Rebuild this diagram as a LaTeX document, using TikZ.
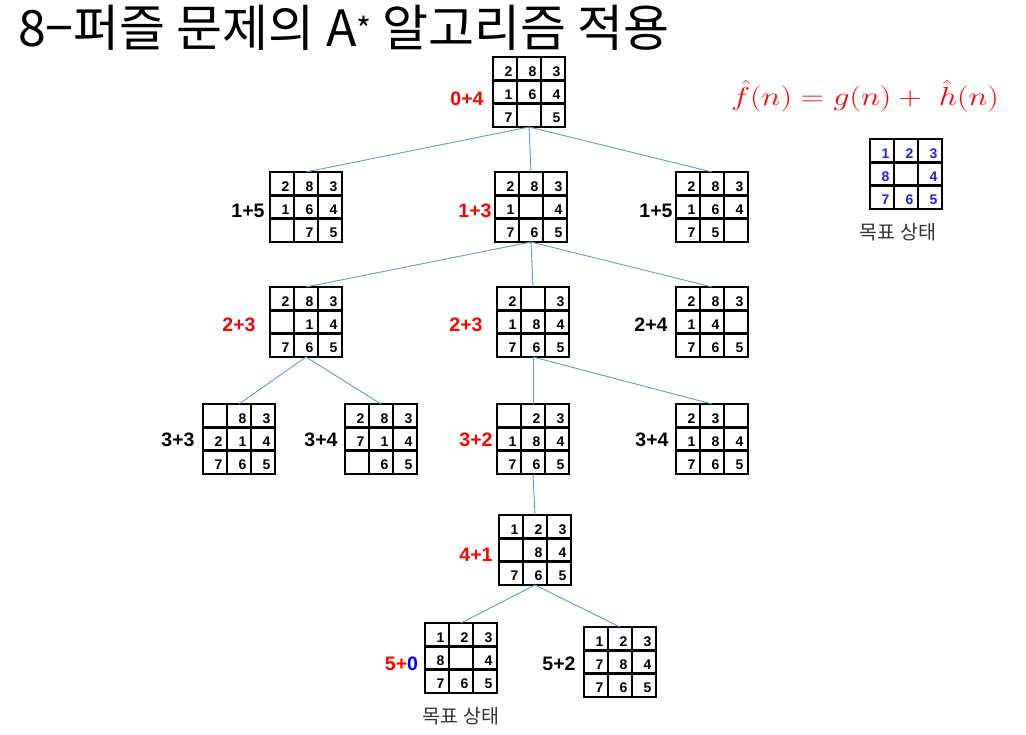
\documentclass[tikz,border=0pt]{standalone}
\usepackage{fontspec}
\newfontfamily\kfont{Noto Sans CJK KR}
\newfontfamily\dfont{Liberation Sans}
\definecolor{edgeblue}{HTML}{5B9BD5}
\definecolor{goalblue}{HTML}{2020E0}
\definecolor{capgray}{HTML}{333333}
\tikzset{
  pzframe/.style={draw, line width=2.4pt, minimum width=72pt, minimum height=70pt, inner sep=0pt, outer sep=0pt},
  pzline/.style={line width=2.4pt},
  digit/.style={font=\dfont\bfseries\fontsize{14}{14}\selectfont, inner sep=0pt},
  lbl/.style={font=\dfont\bfseries\fontsize{19.5}{20}\selectfont, inner sep=0pt},
  edge/.style={draw=edgeblue, line width=0.9pt},
  caption/.style={font=\kfont\fontsize{19.5}{20}\selectfont, text=capgray, inner sep=0pt}
}
\newcommand\pz[5]{%
  \node[pzframe] (#1) at (#2+36,#3+35) {};
  \draw[pzline] (#2+24,#3) -- (#2+24,#3+70) (#2+48,#3) -- (#2+48,#3+70)
    (#2,#3+23.33) -- (#2+72,#3+23.33) (#2,#3+46.67) -- (#2+72,#3+46.67);
  \foreach \v [count=\i from 0] in {#4} {
    \pgfmathtruncatemacro\pzc{mod(\i,3)}
    \pgfmathtruncatemacro\pzr{int(\i/3)}
    \node[digit,text=#5] at (#2+\pzc*24+15.5, #3+\pzr*23.33+14.3) {\v};
  }
}
\begin{document}
\begin{tikzpicture}[x=1pt,y=-1pt]
\fill[white] (0,0) rectangle (1026,735);
\useasboundingbox (0,0) rectangle (1026,735);
% title
\node[font=\kfont\fontsize{50}{52}\selectfont, anchor=base west, inner sep=0pt] (title) at (18,47) {8−퍼즐 문제의 A\raisebox{0.1em}{\fontsize{32}{32}\selectfont*} 알고리즘 적용};
% formula
\node[text=red, inner sep=0pt] (formula) at (865,96) {\scalebox{1.3}[1.05]{\Huge$\hat{f}(n) = g(n) +\ \hat{h}(n)$}};
% puzzles
\pz{root}{493}{57}{2,8,3,1,6,4,7,,5}{black}
\pz{la}{270}{172}{2,8,3,1,6,4,,7,5}{black}
\pz{lb}{495}{172}{2,8,3,1,,4,7,6,5}{black}
\pz{lc}{676}{172}{2,8,3,1,6,4,7,5,}{black}
\pz{ma}{270}{287}{2,8,3,,1,4,7,6,5}{black}
\pz{mb}{497}{287}{2,,3,1,8,4,7,6,5}{black}
\pz{mc}{676}{287}{2,8,3,1,4,,7,6,5}{black}
\pz{na}{203}{404}{,8,3,2,1,4,7,6,5}{black}
\pz{nb}{345}{404}{2,8,3,7,1,4,,6,5}{black}
\pz{nc}{497}{404}{,2,3,1,8,4,7,6,5}{black}
\pz{nd}{676}{404}{2,3,,1,8,4,7,6,5}{black}
\pz{oa}{499}{515}{1,2,3,,8,4,7,6,5}{black}
\pz{pa}{425}{623}{1,2,3,8,,4,7,6,5}{black}
\pz{pb}{584}{627}{1,2,3,7,8,4,7,6,5}{black}
\pz{goal}{870}{139}{1,2,3,8,,4,7,6,5}{goalblue}
% labels
\node[lbl,text=red] (t0) at (467,99) {0+4};
\node[lbl] (t1a) at (248,211) {1+5};
\node[lbl,text=red] (t1b) at (475,211) {1+3};
\node[lbl] (t1c) at (656,211) {1+5};
\node[lbl,text=red] (t2a) at (239,325) {2+3};
\node[lbl,text=red] (t2b) at (466,325) {2+3};
\node[lbl] (t2c) at (651,325) {2+4};
\node[lbl] (t3a) at (178,440) {3+3};
\node[lbl] (t3b) at (321,440) {3+4};
\node[lbl,text=red] (t3c) at (476,440) {3+2};
\node[lbl] (t3d) at (652,440) {3+4};
\node[lbl,text=red] (t4) at (476,555) {4+1};
\node[lbl] (t5a) at (401.5,664) {{\color{red}5+}{\color{blue}0}};
\node[lbl] (t5b) at (559,664) {5+2};
\node[caption] (cap1) at (898,232) {목표 상태};
\node[caption] (cap2) at (461,716) {목표 상태};
% edges
\draw[edge] (root.south) -- (la.north);
\draw[edge] (root.south) -- (lb.north);
\draw[edge] (root.south) -- (lc.north);
\draw[edge] (lb.south) -- (ma.north);
\draw[edge] (lb.south) -- (mb.north);
\draw[edge] (lb.south) -- (mc.north);
\draw[edge] (ma.south) -- (na.north);
\draw[edge] (ma.south) -- (nb.north);
\draw[edge] (mb.south) -- (nc.north);
\draw[edge] (mb.south) -- (nd.north);
\draw[edge] (nc.south) -- (oa.north);
\draw[edge] (oa.south) -- (pa.north);
\draw[edge] (oa.south) -- (pb.north);
\end{tikzpicture}
\end{document}
